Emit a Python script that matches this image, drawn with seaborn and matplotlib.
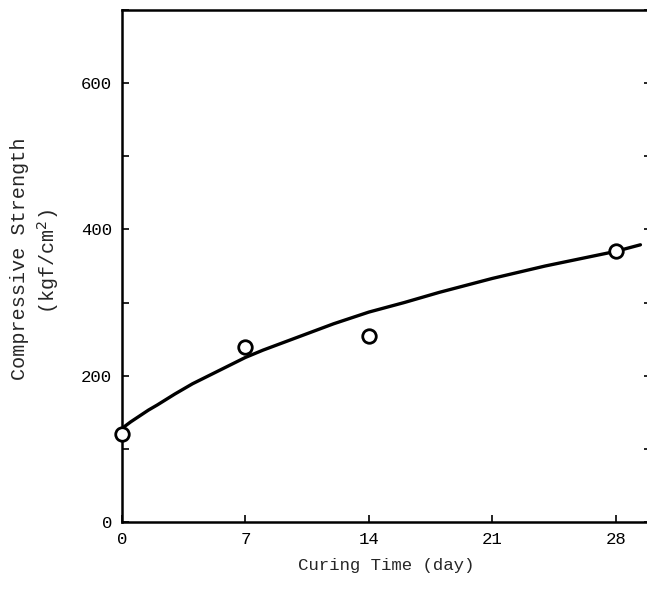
import matplotlib
matplotlib.use("Agg")
import matplotlib.pyplot as plt
import seaborn as sns
import pandas as pd
from matplotlib.ticker import MultipleLocator

# measured data points
days = [0, 7, 14, 28]
strength = [120, 239, 254, 370]

# fitted curve
curve_days = [0, 0.5, 1, 1.5, 2, 3, 4, 5, 6, 7, 8, 10, 12, 14, 16, 18, 21, 24, 26, 28, 29.4]
curve_strength = [128, 137, 145, 153, 160, 175, 189, 201, 213, 225, 235, 253, 271, 287, 300, 314, 333, 350, 360, 370, 379]

x_ticks = [0, 7, 14, 21, 28]
y_ticks = [0, 200, 400, 600]

sns.set_theme(style="ticks")
plt.rcParams['font.family'] = ['Liberation Mono', 'DejaVu Sans Mono']

fig = plt.figure(figsize=(6.47, 5.94), dpi=100)
ax = fig.add_axes([122/647, 1 - 522/594, (651 - 122)/647, (522 - 10)/594])

pts = pd.DataFrame({"day": days, "strength": strength})
cur = pd.DataFrame({"day": curve_days, "strength": curve_strength})

sns.lineplot(data=cur, x="day", y="strength", ax=ax, color="black", lw=2.4, sort=True, zorder=2)
sns.scatterplot(data=pts, x="day", y="strength", ax=ax, marker="o", s=95,
                facecolor="white", edgecolor="black", linewidth=2, zorder=3, clip_on=False)

ax.set_xlim(0, 30)
ax.set_ylim(0, 700)
ax.set_xticks(x_ticks)
ax.set_xticklabels([str(t) for t in x_ticks])
ax.set_yticks(y_ticks)
ax.set_yticklabels([str(t) for t in y_ticks])
ax.yaxis.set_minor_locator(MultipleLocator(100))

for s in ax.spines.values():
    s.set_linewidth(1.8)
    s.set_color("black")

ax.tick_params(axis="both", which="both", direction="in", labelsize=12.5, colors="black")
ax.tick_params(axis="y", which="both", right=True, length=5, width=1.2, pad=7)
ax.tick_params(axis="x", which="major", top=False, length=5, width=1.2, pad=7)
ax.set_xlabel("Curing Time (day)", fontsize=12.5, labelpad=8)
ax.set_ylabel("")

fig.text(20/647, 1 - 259/594, "Compressive Strength", rotation=90, fontsize=14.5,
         ha="center", va="center")
fig.text(48/647, 1 - 262/594, "(kgf/cm$^2$)", rotation=90, fontsize=14.5,
         ha="center", va="center")

fig.savefig("out.png", dpi=100, facecolor="white")
